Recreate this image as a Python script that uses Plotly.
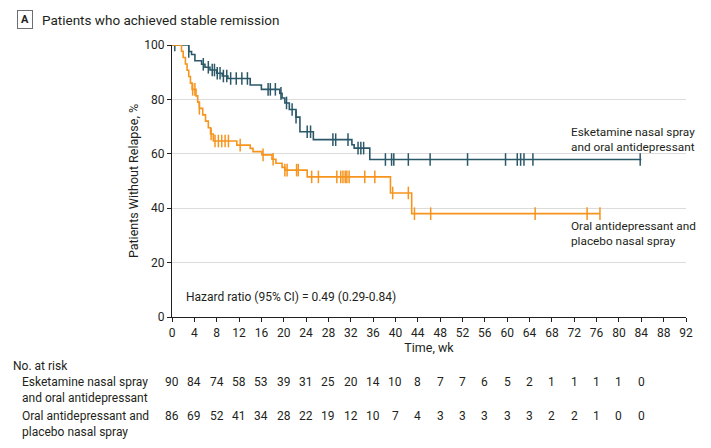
import plotly.graph_objects as go
import numpy as np

# ---------------- data ----------------
esk_time = [0, 3.0, 3.5, 4.1, 5.3, 5.9, 6.8, 8.0, 9.0, 10.0, 14.0, 16.0, 19.3, 19.7, 20.2, 21.0, 22.2, 22.9, 25.3, 32.2, 32.6, 35.4, 84.0]
esk_surv = [100, 97.6, 96.5, 94.2, 92.9, 91.8, 90.8, 89.6, 88.6, 87.7, 85.3, 83.7, 82.2, 80.5, 78.7, 76.3, 73.5, 68.1, 65.2, 63.3, 62.1, 57.9, 57.9]
esk_cens = [0.5, 3.0, 5.6, 6.5, 7.2, 7.6, 8.1, 8.6, 9.2, 9.8, 10.5, 11.5, 12.5, 13.5, 17.2, 17.6, 18.5, 19.5, 20.5, 21.5, 22.2,
            24.2, 24.8, 28.8, 29.3, 31.5, 33.3, 33.8, 34.3, 38.2, 39.3, 39.7, 42.3, 46.2, 52.9, 59.7, 61.8, 62.4, 63.0, 64.6, 83.8]

pla_time = [0, 1.7, 2.0, 2.4, 2.7, 3.0, 3.3, 3.6, 4.3, 4.6, 4.9, 5.5, 6.0, 6.5, 6.9, 7.4, 11.6, 14.0, 14.5, 16.1, 17.9, 18.6, 19.7, 20.2, 24.2, 39.1, 42.9, 76.6]
pla_surv = [100, 97.7, 95.4, 93.0, 90.7, 88.4, 86.0, 83.7, 81.3, 79.0, 76.7, 74.3, 72.0, 69.6, 67.3, 64.7, 63.2, 62.0, 60.8, 59.6, 58.0, 56.5, 55.0, 54.0, 51.5, 45.6, 38.0, 38.0]
pla_cens = [3.7, 4.1, 4.9, 7.0, 7.7, 8.3, 8.9, 9.5, 10.1, 12.2, 16.3, 18.1, 20.2, 20.6, 22.3, 22.6, 25.0, 26.2,
            29.5, 30.2, 30.6, 31.0, 31.3, 31.7, 34.5, 36.3, 39.5, 42.3, 43.4, 46.3, 65.0, 74.3, 76.6]

risk_times = list(range(0, 88, 4))
esk_risk = [90, 84, 74, 58, 53, 39, 31, 25, 20, 14, 10, 8, 7, 7, 6, 5, 2, 1, 1, 1, 1, 0]
pla_risk = [86, 69, 52, 41, 34, 28, 22, 19, 12, 10, 7, 4, 3, 3, 3, 3, 3, 2, 2, 1, 0, 0]

x_ticks = list(range(0, 96, 4))
y_ticks = [0, 20, 40, 60, 80, 100]

ESK_COLOR = "#2b5868"
PLA_COLOR = "#f7941d"
TXT = "#231f20"
FONT = "Liberation Sans Narrow, Roboto, sans-serif"


def step_at(times, surv, t):
    idx = np.searchsorted(np.array(times), t, side="right") - 1
    return surv[max(idx, 0)]


fig = go.Figure()
for times, surv, cens, color in [(esk_time, esk_surv, esk_cens, ESK_COLOR),
                                 (pla_time, pla_surv, pla_cens, PLA_COLOR)]:
    fig.add_trace(go.Scatter(x=times, y=surv, mode="lines", line=dict(color=color, width=1.6, shape="hv"),
                             showlegend=False, hoverinfo="skip"))
    fig.add_trace(go.Scatter(x=cens, y=[step_at(times, surv, c) for c in cens], mode="markers",
                             marker=dict(symbol="line-ns", size=9, line=dict(color=color, width=1.5)),
                             showlegend=False, hoverinfo="skip"))

OFF = 8  # page body margin
W, H = 711 - OFF, 448 - OFF
L = 172 - OFF
T = 45 - OFF
R = W - (686 - OFF)
B = H - (317 - OFF)
pw = W - L - R
ph = H - T - B


def px(xpix):
    return (xpix - OFF - L) / pw


def py(ypix):
    return (H - B - (ypix - OFF)) / ph


fig.add_annotation(x=px(25), y=py(19.5), xref="paper", yref="paper", text="<b>A</b>", showarrow=False,
                   font=dict(family=FONT, size=11, color=TXT), bordercolor="#6d6e71", borderwidth=1,
                   borderpad=2, width=10, xanchor="center", yanchor="middle")


def add_text(xpix, ypix, text, size=12, anchor="left"):
    fig.add_annotation(x=px(xpix), y=py(ypix), xref="paper", yref="paper", text=text,
                       showarrow=False, font=dict(family=FONT, size=size, color=TXT),
                       xanchor=anchor, yanchor="middle", align="left")


add_text(40, 19.5, "Patients who achieved stable remission", size=13.5)
add_text(569, 139, "Esketamine nasal spray<br>and oral antidepressant", size=11.8)
add_text(569, 233, "Oral antidepressant and<br>placebo nasal spray", size=11.8)
add_text(184, 297, "Hazard ratio (95% CI) = 0.49 (0.29-0.84)", size=12)
add_text(11, 366, "No. at risk", size=12)
add_text(20, 389.5, "Esketamine nasal spray<br>and oral antidepressant", size=12)
add_text(20, 423.5, "Oral antidepressant and<br>placebo nasal spray", size=12)

for t, a, b in zip(risk_times, esk_risk, pla_risk):
    fig.add_annotation(x=t, y=py(382), xref="x", yref="paper", text=str(a), showarrow=False,
                       font=dict(family=FONT, size=12, color=TXT), xanchor="center", yanchor="middle")
    fig.add_annotation(x=t, y=py(416), xref="x", yref="paper", text=str(b), showarrow=False,
                       font=dict(family=FONT, size=12, color=TXT), xanchor="center", yanchor="middle")

fig.update_layout(
    width=W, height=H, margin=dict(l=L, r=R, t=T, b=B),
    paper_bgcolor="white", plot_bgcolor="white",
    font=dict(family=FONT, size=12, color=TXT),
    xaxis=dict(range=[0, 92], tickvals=x_ticks, ticks="outside", ticklen=4, tickcolor=TXT, showgrid=False,
               showline=True, linecolor=TXT, linewidth=1.2, zeroline=False,
               title=dict(text="Time, wk", standoff=3, font=dict(family=FONT, size=12.5)), tickfont=dict(size=12)),
    yaxis=dict(range=[0, 100], tickvals=y_ticks, ticks="outside", ticklen=4, tickcolor=TXT, showgrid=True,
               gridcolor="#dcdcdc", gridwidth=1, showline=True, linecolor=TXT, linewidth=1.2, zeroline=False,
               title=dict(text="Patients Without Relapse, %", standoff=2, font=dict(family=FONT, size=12.5)),
               tickfont=dict(size=12)),
)

fig.write_html("out.html")
